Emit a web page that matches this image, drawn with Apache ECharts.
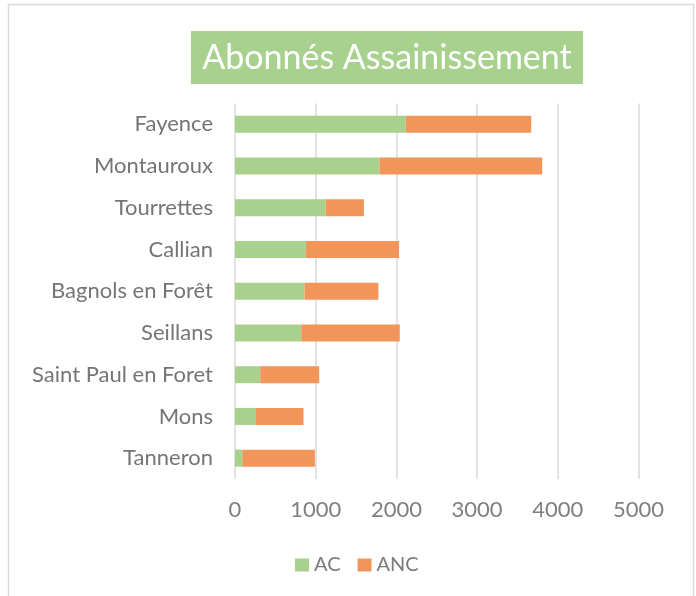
<!DOCTYPE html>
<html><head><meta charset="utf-8">
<script src="https://cdn.jsdelivr.net/npm/echarts@6/dist/echarts.min.js"></script>
<style>html,body{margin:0;padding:0;background:#fff}#c{width:696px;height:596px}</style>
</head><body><div id="c"></div>
<script>
const categories = ['Fayence','Montauroux','Tourrettes','Callian','Bagnols en Forêt','Seillans','Saint Paul en Foret','Mons','Tanneron'];
const acValues = [2116, 1790, 1121, 879, 862, 821, 313, 260, 90];
const ancValues = [1555, 2017, 476, 1154, 915, 1221, 730, 589, 900];
const xTicks = [0, 1000, 2000, 3000, 4000, 5000];
const titleText = 'Abonnés Assainissement';

const chart = echarts.init(document.getElementById('c'));
const font = 'Lato';
chart.setOption({
  animation: false,
  textStyle: {fontFamily: font},
  graphic: [
    {type: 'rect', shape: {x: 8.5, y: 4.5, width: 685, height: 600}, style: {fill: 'none', stroke: '#d9d9d9', lineWidth: 1.5}},
    {type: 'rect', shape: {x: 191, y: 31, width: 392, height: 53}, style: {fill: '#A9D18E'}},
    {type: 'text', x: 387, y: 58, style: {text: titleText, fill: '#ffffff', font: '34px Lato', textAlign: 'center', textVerticalAlign: 'middle'}}
  ],
  legend: {
    top: 550, left: 290, itemWidth: 14, itemHeight: 13, itemGap: 17,
    icon: 'rect',
    textStyle: {fontSize: 20, color: '#7a7a7a', fontFamily: font},
    data: ['AC', 'ANC']
  },
  grid: {left: 235, right: 57.5, top: 103.5, bottom: 117, containLabel: false},
  xAxis: {
    type: 'value', min: 0, max: 5000, interval: 1000,
    axisLine: {show: false}, axisTick: {show: false},
    splitLine: {lineStyle: {color: '#d9d9d9', width: 1.5}},
    axisLabel: {fontSize: 22, color: '#7f7f7f', margin: 20, fontFamily: font,
      formatter: v => xTicks.includes(v) ? String(v) : ''}
  },
  yAxis: {
    type: 'category', data: categories, inverse: true,
    axisLine: {show: false}, axisTick: {show: false},
    axisLabel: {fontSize: 22, color: '#757575', margin: 22, fontFamily: font}
  },
  series: [
    {name: 'AC', type: 'bar', stack: 't', data: acValues, barWidth: 17, itemStyle: {color: '#A9D18E'}},
    {name: 'ANC', type: 'bar', stack: 't', data: ancValues, barWidth: 17, itemStyle: {color: '#F1955A'}}
  ]
});
</script></body></html>
